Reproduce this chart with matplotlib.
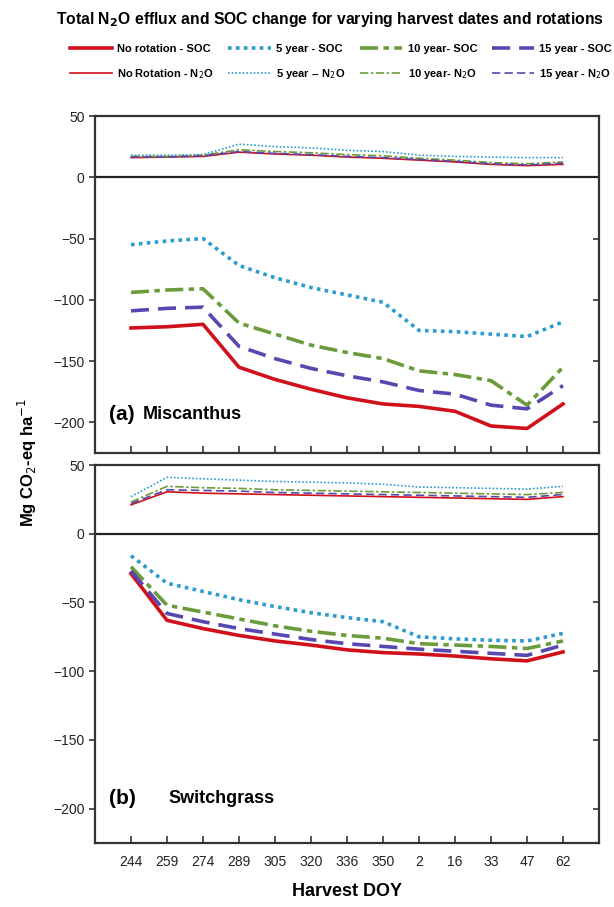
"""
Total N2O efflux and SOC change for varying harvest dates and rotations.
"""

# Imports #
import numpy as np
import matplotlib
matplotlib.use("Agg")
from matplotlib import pyplot as plt
from matplotlib.lines import Line2D

plt.rcParams['font.family'] = ['Liberation Sans', 'DejaVu Sans']

# Data #
harvest_doy = ["244", "259", "274", "289", "305", "320", "336", "350", "2", "16", "33", "47", "62"]
rotations = ["No rotation", "5 year", "10 year", "15 year"]

# (a) Miscanthus
misc_soc_none = [-123, -122, -120, -155, -165, -173, -180, -185, -187, -191, -203, -205, -185]
misc_soc_5 = [-55, -52, -50, -72, -82, -90, -96, -102, -125, -126, -128, -130, -118]
misc_soc_10 = [-94, -92, -91, -119, -128, -137, -143, -148, -158, -161, -166, -186, -155]
misc_soc_15 = [-109, -107, -106, -138, -148, -156, -162, -167, -174, -177, -186, -189, -170]
misc_n2o_none = [16, 16.5, 17, 20.5, 19, 18, 16.5, 15.5, 14, 12.5, 10.5, 9.5, 10.5]
misc_n2o_5 = [18, 18, 18.5, 27, 25, 24, 22, 21, 18, 17, 16.5, 16, 16]
misc_n2o_10 = [17, 17, 18, 22.5, 21, 20, 18.5, 17.5, 15.5, 14, 12, 11, 12.5]
misc_n2o_15 = [16.5, 16.5, 17.5, 21, 19.5, 18.5, 17, 16, 14.5, 13, 11, 10, 11.5]

# (b) Switchgrass
swg_soc_none = [-29, -63, -69, -74, -78, -81, -84.5, -86.5, -87.5, -89, -91, -92.5, -86]
swg_soc_5 = [-16, -36, -42, -48, -53, -57.5, -61, -64, -75, -76.5, -77.5, -78, -72.5]
swg_soc_10 = [-24, -52, -57, -62, -67, -71, -74, -76, -80, -81, -82, -83.5, -78]
swg_soc_15 = [-27, -58, -64, -69, -73, -77, -80, -82, -84, -85.5, -87, -88.5, -81]
swg_n2o_none = [21, 30.5, 29.5, 29, 28.5, 28, 27.5, 27, 26.5, 26, 25.5, 25, 27]
swg_n2o_5 = [27, 41, 40, 39, 38, 37.5, 37, 36, 34, 33.5, 33, 32.5, 34.5]
swg_n2o_10 = [23, 34.5, 33.5, 33, 32, 31.5, 31, 30.5, 30, 29.5, 29, 28.5, 30]
swg_n2o_15 = [22, 32, 31.5, 31, 30, 29.5, 29, 28.5, 28, 27.5, 27, 26.5, 28.5]

# Styles: (colour, linestyle) per rotation
styles = [
    ("#d0101a", "-"),
    ("#2b9bd0", (0, (1, 1.2))),
    ("#6b9b3a", (0, (5, 1.5, 1.5, 1.5))),
    ("#5648b0", (0, (5, 2.5))),
]
SOC_LW = 2.6
N2O_LW = 1.2


def draw_panel(ax, soc, n2o, label_a, label_b, lab_y):
    x = np.arange(len(harvest_doy))
    for (c, ls), n in zip(styles, n2o):
        ax.plot(x, n, color=c, linestyle=ls, lw=N2O_LW)
    for (c, ls), s in zip(styles, soc):
        ax.plot(x, s, color=c, linestyle=ls, lw=SOC_LW)
    ax.axhline(0, color="#222222", lw=1.6)
    ax.set_xlim(-1, 13)
    ax.set_ylim(-225, 50)
    ax.set_yticks([-200, -150, -100, -50, 0, 50])
    ax.set_xticks(x)
    ax.tick_params(axis="y", which="both", left=True, right=True, labelsize=10,
                   length=4, width=1.2, colors="#333333", labelcolor="#222222",
                   direction="out")
    ax.tick_params(axis="x", direction="in", length=5, width=1.2, colors="#333333",
                   labelsize=10, labelcolor="#222222", pad=9)
    for sp in ax.spines.values():
        sp.set_linewidth(1.6)
        sp.set_color("#333333")
    # right ticks point inward
    for t in ax.yaxis.get_major_ticks():
        t.tick2line.set_marker(matplotlib.markers.TICKLEFT)
    # panel labels
    ax.text(0.028, lab_y, label_a, transform=ax.transAxes, fontsize=15,
            fontweight="bold", va="center", ha="left")
    ax.text(label_b[1], lab_y, label_b[0], transform=ax.transAxes, fontsize=13,
            fontweight="bold", va="center", ha="left")


fig = plt.figure(figsize=(6.14, 9.07), dpi=100)
ax_a = fig.add_axes([0.1547, 0.5006, 0.8209, 0.3715])
ax_b = fig.add_axes([0.1547, 0.0706, 0.8209, 0.4167])

draw_panel(ax_a, [misc_soc_none, misc_soc_5, misc_soc_10, misc_soc_15],
           [misc_n2o_none, misc_n2o_5, misc_n2o_10, misc_n2o_15],
           "(a)", ("Miscanthus", 0.095), 0.115)
draw_panel(ax_b, [swg_soc_none, swg_soc_5, swg_soc_10, swg_soc_15],
           [swg_n2o_none, swg_n2o_5, swg_n2o_10, swg_n2o_15],
           "(b)", ("Switchgrass", 0.145), 0.118)

ax_a.tick_params(axis="x", labelbottom=False)
ax_b.set_xticklabels(harvest_doy)
ax_b.set_xlabel("Harvest DOY", fontsize=13, fontweight="bold", labelpad=10)

fig.text(0.045, 0.49, "Mg CO$_2$-eq ha$^{-1}$", rotation=90, fontsize=12,
         fontweight="bold", ha="center", va="center")

fig.text(0.538, 0.978, "Total N$_\\mathbf{2}$O efflux and SOC change for varying harvest dates and rotations",
         fontsize=11.3, fontweight="bold", ha="center", va="center")

# Legend
handles = []
labels = []
soc_names = ["No rotation - SOC", "5 year - SOC", "10 year- SOC", "15 year - SOC"]
n2o_names = ["No Rotation - N$_2$O", "5 year -- N$_2$O", "10 year- N$_2$O", "15 year - N$_2$O"]
for (c, ls), s_name, n_name in zip(styles, soc_names, n2o_names):
    handles.append(Line2D([], [], color=c, linestyle=ls, lw=SOC_LW))
    labels.append(s_name)
    handles.append(Line2D([], [], color=c, linestyle=ls, lw=N2O_LW))
    labels.append(n_name)
fig.legend(handles, labels, ncol=4, loc="upper center", bbox_to_anchor=(0.555, 0.963),
           frameon=False, prop={"size": 8, "weight": "bold"}, handlelength=3.8,
           columnspacing=1.3, handletextpad=0.5, labelspacing=1.2)

fig.savefig("out.png", dpi=100)
